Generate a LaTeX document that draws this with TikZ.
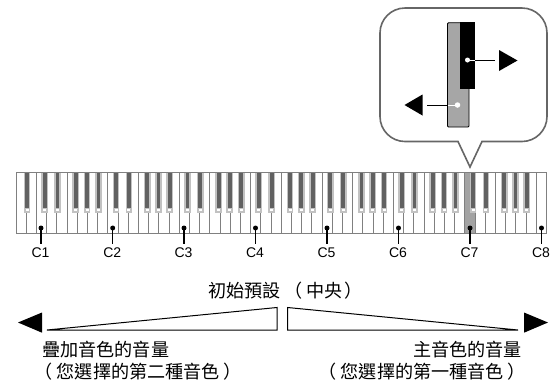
\documentclass[tikz,border=0pt]{standalone}
\usepackage{fontspec}
\setmainfont{Liberation Sans}
\newfontfamily\cjk{Noto Sans CJK TC}
\newcommand{\lpar}{（\kern4pt}
\newcommand{\rpar}{\kern4pt）}
\tikzset{
 x=1pt,y=-1pt,
 whitekey/.style={draw=black!50,line width=0.95pt,fill=white},
 hikey/.style={draw=black!50,line width=0.95pt,fill=black!36},
 blackshade/.style={fill=black!24,draw=none},
 blackcore/.style={fill=black!62,draw=none},
 blackgap/.style={fill=white,draw=none},
 pin/.style={line width=1.1pt,draw=black},
 pindot/.style={circle,fill=black,inner sep=0pt,minimum size=5pt},
 octlabel/.style={font=\fontsize{14}{16}\selectfont,inner sep=0pt,anchor=center},
 cjklabel/.style={font=\cjk\fontsize{18.1}{20}\selectfont,inner sep=0pt,align=left},
 headtip/.style={fill=black,draw=none},
 wedge/.style={draw=black,line width=1pt,line join=miter},
}
\begin{document}
\begin{tikzpicture}
\useasboundingbox (0,0) rectangle (555,384);
\fill[white] (0,0) rectangle (555,384);
% white keys
\foreach \i in {0,...,51}{
  \pgfmathsetmacro{\xa}{16+10.2*\i}
  \draw[whitekey] (\xa,172.5) rectangle (\xa+10.2,233);
}
\draw[hikey] (16+10.2*44,172.5) rectangle (16+10.2*45,233);
% black keys
\foreach \i in {0,...,50}{
  \pgfmathtruncatemacro{\m}{mod(\i,7)}
  \ifnum\m=1\else\ifnum\m=4\else
    \pgfmathsetmacro{\off}{\m==2?-2.0:(\m==3?0.7:(\m==5?-1.4:(\m==6?-0.4:0.8)))}
    \pgfmathsetmacro{\xb}{16+10.2*(\i+1)+\off}
    \fill[blackshade] (\xb-3.4,172.5) rectangle (\xb+3.4,213);
    \fill[blackcore] (\xb-1.9,172.5) rectangle (\xb+1.9,207.5);
    \fill[blackgap] (\xb-1.5,208.5) rectangle (\xb+1.5,211);
  \fi\fi
}
% C labels
\foreach \n/\px in {1/41,2/112.7,3/184,4/255.5,5/327,6/398.5,7/470,8/541.5}{
  \node[pindot] (d\n) at (\px,228) {};
  \coordinate (e\n) at (\px,243.5);
  \draw[pin] (d\n.center) -- (e\n);
  \node[octlabel] (c\n) at (\px-0.5,253) {C\n};
}
% callout
\coordinate (tipC) at (470,167);
\draw[draw=black!60,line width=1.6pt,fill=white,line join=miter]
  (458,141.5) -- (tipC) -- (482,141.5) [rounded corners=25pt] -- (547,141.5) -- (547,8) -- (380,8) -- (380,141.5) [sharp corners] -- cycle;
\draw[draw=black,line width=0.9pt,fill=black!35,rounded corners=1pt] (447.5,22.7) -- (447.5,127) -- (469,127) -- (469,22.7) -- cycle;
\fill[black] (460,22) rectangle (475,88.5);
\node[circle,fill=white,inner sep=0pt,minimum size=5pt] (dotb) at (467.5,60) {};
\node[circle,fill=white,inner sep=0pt,minimum size=5.5pt] (dota) at (457.5,105) {};
\coordinate (ra) at (495,60);
\coordinate (la) at (427,105);
\coordinate (lm) at (447.5,105);
\draw[line width=1pt,draw=black] (dotb.center) -- (ra);
\draw[line width=0.9pt,draw=white] (dotb.center) -- (475,60);
\draw[line width=1pt,draw=white] (dota.center) -- (lm);
\draw[line width=1pt,draw=black] (lm) -- (la);
\fill[headtip] (499,50) -- (517.5,60.5) -- (499,71) -- cycle;
\fill[headtip] (404.5,105) -- (422.5,94.5) -- (422.5,115.5) -- cycle;
% wedges
\draw[wedge] (47,330) -- (277,307.5) -- (277,330) -- cycle;
\draw[wedge] (518,330) -- (287.5,307.5) -- (287.5,330) -- cycle;
\fill[headtip] (18,322.5) -- (42,312.5) -- (42,332.7) -- cycle;
\fill[headtip] (548,322.5) -- (524,312.5) -- (524,332.7) -- cycle;
% text
\node[cjklabel,anchor=west] (t1) at (208,291) {初始預設 \lpar 中央\kern2pt）};
\node[cjklabel,anchor=center] (t2) at (105.8,350) {疊加音色的音量};
\node[cjklabel,anchor=center] (t3) at (138.3,372) {\lpar 您選擇的第二種音色\rpar};
\node[cjklabel,anchor=center] (t4) at (467.5,350) {主音色的音量};
\node[cjklabel,anchor=center] (t5) at (422.3,372) {\lpar 您選擇的第一種音色\rpar};
\end{tikzpicture}
\end{document}
